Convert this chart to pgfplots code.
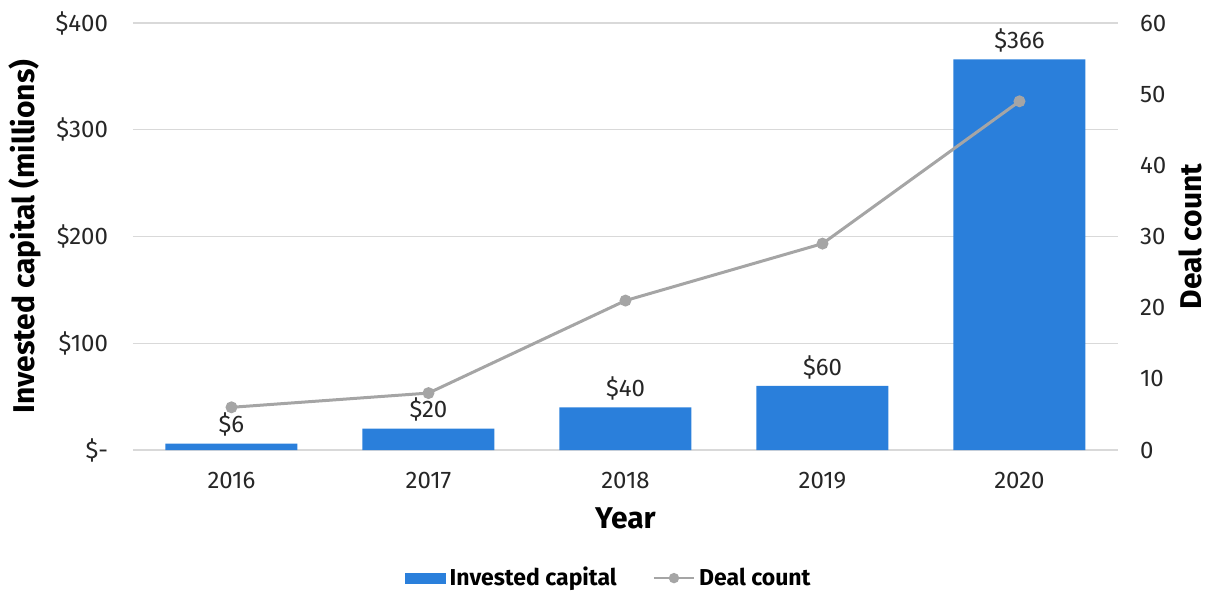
\documentclass[border=0pt]{standalone}
\usepackage{fontspec}
\setmainfont{Fira Sans}
\usepackage{pgfplots}
\pgfplotsset{compat=1.18}
\definecolor{barblue}{HTML}{2A7FDB}
\definecolor{linegray}{HTML}{A5A5A5}
\definecolor{gridgray}{HTML}{D9D9D9}
\definecolor{txt}{HTML}{262626}

\begin{document}
\begin{tikzpicture}
\pgfplotsset{
  base/.style={
    scale only axis, width=492.5pt, height=213.5pt,
    xmin=-0.5, xmax=4.5, ymin=0,
    major tick length=0pt,
    tick label style={font=\fontsize{12}{14}\selectfont, text=txt},
    /pgf/number format/assume math mode=true,
    label style={font=\bfseries\fontsize{15}{17}\selectfont, text=black},
  }
}
% bars: invested capital, left axis
\begin{axis}[base,
    ymax=400,
    axis lines=left,
    x axis line style={draw=gridgray, line width=0.6pt, -},
    y axis line style={draw=none},
    ytick={0,100,...,400},
    yticklabels={\$-,\$100,\$200,\$300,\$400},
    yticklabel style={xshift=-9pt},
    xtick={0,...,4},
    xticklabels={2016,2017,2018,2019,2020},
    xticklabel style={yshift=-7.5pt},
    ymajorgrids, grid style={gridgray, line width=0.6pt},
    ybar, bar width=66pt,
    nodes near coords={\$\pgfmathprintnumber[assume math mode=true]{\pgfplotspointmeta}},
    every node near coord/.append style={font=\fontsize{12}{14}\selectfont, text=txt},
    ylabel={Invested capital (millions)},
    ylabel style={at={(axis description cs:-0.1096,0.5)}, anchor=center},
    xlabel={Year},
    xlabel style={at={(axis description cs:0.5,-0.159)}, anchor=center},
  ]
  \addplot[fill=barblue, draw=none] coordinates {(0,6) (1,20) (2,40) (3,60) (4,366)};
\end{axis}
% line: deal count, right axis
\begin{axis}[base,
    ymax=60,
    axis y line*=right,
    axis x line=none,
    y axis line style={draw=none},
    ytick={0,10,...,60},
    yticklabel style={xshift=7.5pt},
    ylabel={Deal count},
    ylabel style={at={(axis description cs:1.073,0.5)}, anchor=center},
    legend style={at={(axis description cs:0.484,-0.30)}, anchor=center, draw=none,
      font=\bfseries\fontsize{11.5}{13}\selectfont, text=black,
      /tikz/every even column/.append style={column sep=16pt}},
    legend columns=2,
  ]
  \addlegendimage{legend image code/.code={\fill[barblue] (0pt,-2.5pt) rectangle (20pt,2.5pt);}}
  \addlegendentry{Invested capital}
  \addplot[linegray, line width=1.5pt, mark=*, mark size=2.2pt, mark options={fill=linegray, draw=linegray},
    legend image code/.code={\draw[linegray, line width=1.2pt] (0pt,0pt) -- (20pt,0pt); \fill[linegray] (10pt,0pt) circle (1.8pt);}]
    coordinates {(0,6) (1,8) (2,21) (3,29) (4,49)};
  \addlegendentry{Deal count}
\end{axis}
\pgfresetboundingbox
\path[use as bounding box] (-66.5pt,-70.5pt) rectangle (536.5pt,225pt);
\end{tikzpicture}
\end{document}
